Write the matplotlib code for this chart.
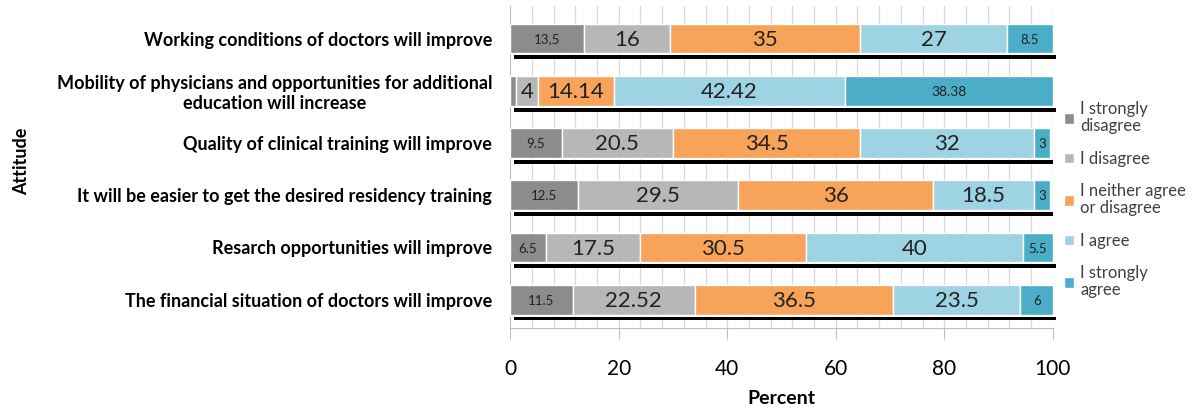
import matplotlib.pyplot as plt
import numpy as np

plt.rcParams['font.family'] = ['Lato', 'DejaVu Sans']

# statements (top to bottom)
statements = [
    'Working conditions of doctors will improve',
    'Mobility of physicians and opportunities for additional\neducation will increase',
    'Quality of clinical training will improve',
    'It will be easier to get the desired residency training',
    'Resarch opportunities will improve',
    'The financial situation of doctors will improve',
]

# answers in percent, one list per category
strongly_disagree = [13.5, 1.06, 9.5, 12.5, 6.5, 11.5]
disagree = [16, 4, 20.5, 29.5, 17.5, 22.52]
neutral = [35, 14.14, 34.5, 36, 30.5, 36.5]
agree = [27, 42.42, 32, 18.5, 40, 23.5]
strongly_agree = [8.5, 38.38, 3, 3, 5.5, 6]

# text shown on each segment (None = no label)
labels_sd = ['13,5', None, '9.5', '12.5', '6.5', '11.5']
labels_d = ['16', '4', '20.5', '29.5', '17.5', '22.52']
labels_n = ['35', '14.14', '34.5', '36', '30.5', '36.5']
labels_a = ['27', '42.42', '32', '18.5', '40', '23.5']
labels_sa = ['8.5', '38.38', '3', '3', '5.5', '6']

categories = ['I strongly\ndisagree', 'I disagree', 'I neither agree\nor disagree',
              'I agree', 'I strongly\nagree']
colors = ['#8c8c8c', '#b7b7b7', '#f7a35a', '#9dd3e2', '#4badc7']

series = [strongly_disagree, disagree, neutral, agree, strongly_agree]
seg_labels = [labels_sd, labels_d, labels_n, labels_a, labels_sa]
# small text for the outer categories, large for the middle ones
label_sizes = [9.5, 16, 16, 16, 9.5]

fig = plt.figure(figsize=(11.95, 4.08), dpi=100)
ax = fig.add_axes([0.427, 0.195, 0.454, 0.79])

y = np.arange(len(statements))
bar_h = 0.57

# black shadow under each bar
totals = np.sum(series, axis=0)
ax.barh(y + 0.36, totals, height=0.075, left=0.6, color='black', zorder=3.5,
        clip_on=False)

left = np.zeros(len(statements))
for vals, col, cat, labs, fs in zip(series, colors, categories, seg_labels, label_sizes):
    vals = np.array(vals)
    ax.barh(y, vals, height=bar_h, left=left, color=col, edgecolor='white',
            linewidth=1, label=cat, zorder=3)
    for i, (v, lab) in enumerate(zip(vals, labs)):
        if lab is None:
            continue
        size = fs
        if lab == '38.38':
            size = 10
        if lab in ('4', '14.14', '42.42'):
            size = 16
        ax.text(left[i] + v / 2, y[i] + 0.02, lab, ha='center', va='center',
                fontsize=size, color='#222222', zorder=4)
    left += vals

ax.set_xlim(0, 100)
ax.set_ylim(len(statements) - 0.45, -0.62)
ax.set_yticks(y)
ax.set_yticklabels(statements, fontsize=13, fontweight='bold', ha='right',
                   multialignment='center')
ax.tick_params(axis='y', length=0, pad=13)

ax.set_xticks(np.arange(0, 101, 20))
ax.set_xticks(np.arange(0, 101, 4), minor=True)
ax.tick_params(axis='x', which='major', labelsize=15, length=8, direction='out',
               color='#bfbfbf', pad=14)
ax.tick_params(axis='x', which='minor', length=0)
ax.grid(axis='x', which='both', color='#d9d9d9', linewidth=0.9, zorder=0)
ax.set_axisbelow(True)

for s in ['top', 'right']:
    ax.spines[s].set_visible(False)
ax.spines['left'].set_color('#bfbfbf')
ax.spines['bottom'].set_color('#bfbfbf')

ax.set_xlabel('Percent', fontsize=14, fontweight='bold', labelpad=8)
fig.text(0.018, 0.605, 'Attitude', rotation=90, fontsize=13, fontweight='bold',
         ha='center', va='center')

leg = ax.legend(loc='upper left', bbox_to_anchor=(1.008, 0.725), frameon=False,
                fontsize=12, handlelength=0.6, handleheight=0.6, handletextpad=0.4,
                labelspacing=1.0, borderaxespad=0)
for t in leg.get_texts():
    t.set_color('#404040')
    t.set_linespacing(1.05)

fig.savefig('out.png', dpi=100)
